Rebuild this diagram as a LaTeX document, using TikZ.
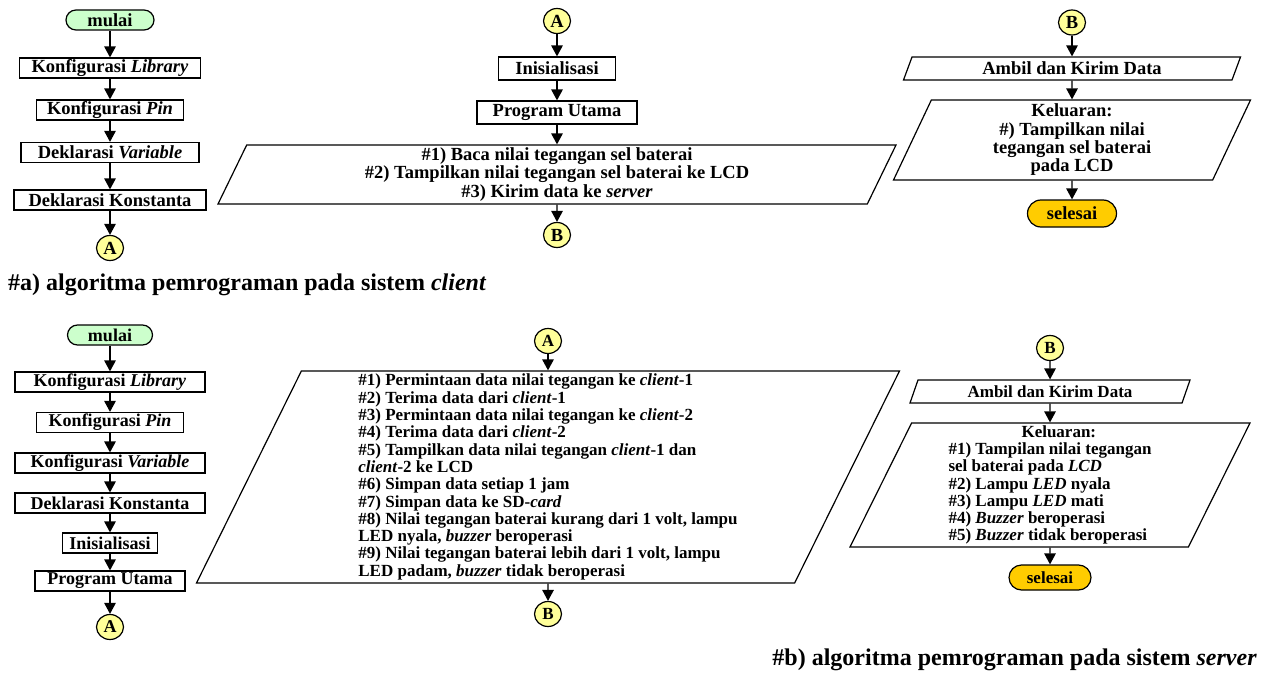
\documentclass[tikz,border=0pt]{standalone}
\usepackage{fontspec}
\setmainfont{Liberation Serif}
\usetikzlibrary{shapes.geometric,arrows.meta}
\definecolor{startgreen}{HTML}{CCFFCC}
\definecolor{endgold}{HTML}{FFCC00}
\definecolor{connyellow}{HTML}{FFFF99}
\begin{document}
\begin{tikzpicture}[x=1pt,y=-1pt,
  cfont/.style={font=\fontsize{18.5pt}{18.3pt}\selectfont\bfseries},
  cbfont/.style={font=\fontsize{18pt}{18pt}\selectfont\bfseries},
  sfont/.style={font=\fontsize{17pt}{17.3pt}\selectfont\bfseries},
  box/.style={draw,line width=1.2pt,rectangle,inner sep=0pt,minimum height=20pt},
  term/.style={draw,line width=1.2pt,rectangle,rounded corners=10pt,inner sep=0pt,minimum height=20pt},
  conn/.style={draw,line width=1.2pt,ellipse,fill=connyellow,inner sep=0pt,minimum width=27pt,minimum height=25pt},
  io/.style={draw,line width=1.2pt,trapezium,trapezium left angle=63.43,trapezium right angle=116.57,trapezium stretches body,inner sep=2pt},
  arr/.style={line width=1.3pt,-{Triangle[width=11.5pt,length=11pt]}},
  ttl/.style={font=\fontsize{24pt}{28pt}\selectfont\bfseries,inner sep=0pt}
]
\useasboundingbox[fill=white] (0,0) rectangle (1268,679);

% ---------- client: column 1
\node[term,fill=startgreen,minimum width=88pt,cfont] (cmulai) at (110,20) {mulai};
\node[box,minimum width=181pt,cfont] (clib) at (110,68) {Konfigurasi \textit{Library}};
\node[box,minimum width=147pt,cfont] (cpin) at (110,110) {Konfigurasi \textit{Pin}};
\node[box,minimum width=178pt,cfont] (cvar) at (110,152.5) {Deklarasi \textit{Variable}};
\node[box,minimum width=192pt,cfont] (ckon) at (110,200) {Deklarasi Konstanta};
\node[conn,cfont] (cA) at (110,248) {A};

% ---------- client: column 2
\node[conn,cfont] (cA2) at (557,21) {A};
\node[box,minimum width=117pt,minimum height=23pt,cfont] (cinit) at (557,68.5) {Inisialisasi};
\node[box,minimum width=160pt,minimum height=23pt,cfont] (cprog) at (557,112.5) {Program Utama};
\node[io,minimum width=678pt,minimum height=59pt,align=center,cfont] (cproc) at (557,174.5)
  {\#1) Baca nilai tegangan sel baterai\\\#2) Tampilkan nilai tegangan sel baterai ke LCD\\\#3) Kirim data ke \textit{server}};
\node[conn,cfont] (cB) at (557,235) {B};

% ---------- client: column 3
\node[conn,cfont] (cB2) at (1072,22.5) {B};
\node[io,minimum width=337pt,minimum height=23pt,cfont] (cambil) at (1072,68.5) {Ambil dan Kirim Data};
\node[io,minimum width=357pt,minimum height=80pt,align=center,cfont] (cout) at (1072,140)
  {Keluaran:\\\#) Tampilkan nilai\\tegangan sel baterai\\pada LCD};
\node[term,fill=endgold,minimum width=89pt,minimum height=27pt,rounded corners=13.5pt,cfont] (cend) at (1072,213.5) {selesai};

\node[ttl,anchor=base west] (ta) at (8,290) {\#a) algoritma pemrograman pada sistem \textit{client}};

% ---------- server: column 1
\node[term,fill=startgreen,minimum width=85pt,cbfont] (smulai) at (110,335) {mulai};
\node[box,minimum width=190pt,cbfont] (slib) at (110,382) {Konfigurasi \textit{Library}};
\node[box,minimum width=147pt,cbfont] (spin) at (110,422.5) {Konfigurasi \textit{Pin}};
\node[box,minimum width=190pt,cbfont] (svar) at (110,463) {Konfigurasi \textit{Variable}};
\node[box,minimum width=190pt,cbfont] (skon) at (110,503) {Deklarasi Konstanta};
\node[box,minimum width=95pt,cbfont] (sinit) at (110,543) {Inisialisasi};
\node[box,minimum width=150pt,cbfont] (sprog) at (110,581) {Program Utama};
\node[conn,cbfont] (sA) at (110,627) {A};

% ---------- server: column 2
\node[conn,sfont] (sA2) at (548,341) {A};
\node[io,minimum width=703pt,minimum height=212pt,align=left,sfont] (sproc) at (548,477)
  {\#1) Permintaan data nilai tegangan ke \textit{client}-1\\
   \#2) Terima data dari \textit{client}-1\\
   \#3) Permintaan data nilai tegangan ke \textit{client}-2\\
   \#4) Terima data dari \textit{client}-2\\
   \#5) Tampilkan data nilai tegangan \textit{client}-1 dan\\
   \textit{client}-2 ke LCD\\
   \#6) Simpan data setiap 1 jam\\
   \#7) Simpan data ke SD-\textit{card}\\
   \#8) Nilai tegangan baterai kurang dari 1 volt, lampu\hspace*{5pt}\\
   LED nyala, \textit{buzzer} beroperasi\\
   \#9) Nilai tegangan baterai lebih dari 1 volt, lampu\\
   LED padam, \textit{buzzer} tidak beroperasi};
\node[conn,sfont] (sB) at (548,614) {B};

% ---------- server: column 3
\node[conn,sfont] (sB2) at (1050,348) {B};
\node[io,minimum width=280pt,minimum height=23pt,sfont] (sambil) at (1050,391.5) {Ambil dan Kirim Data};
\node[io,minimum width=400pt,minimum height=124pt,align=left,sfont] (sout) at (1050,485)
  {\hspace*{73pt}Keluaran:\\
   \#1) Tampilan nilai tegangan\hspace*{11pt}\\
   sel baterai pada \textit{LCD}\\
   \#2) Lampu \textit{LED} nyala\\
   \#3) Lampu \textit{LED} mati\\
   \#4) \textit{Buzzer} beroperasi\\
   \#5) \textit{Buzzer} tidak beroperasi};
\node[term,fill=endgold,minimum width=82pt,minimum height=25pt,rounded corners=12.5pt,sfont] (send) at (1050,577.5) {selesai};

\node[ttl,anchor=base east] (tb) at (1257,665) {\#b) algoritma pemrograman pada sistem \textit{server}};

% ---------- connectors
\draw[arr] (cmulai) -- (clib);
\draw[arr] (clib) -- (cpin);
\draw[arr] (cpin) -- (cvar);
\draw[arr] (cvar) -- (ckon);
\draw[arr] (ckon) -- (cA);
\draw[arr] (cA2) -- (cinit);
\draw[arr] (cinit) -- (cprog);
\draw[arr] (cprog) -- (cproc);
\draw[arr] (cproc) -- (cB);
\draw[arr] (cB2) -- (cambil);
\draw[arr] (cambil) -- (cout);
\draw[arr] (cout) -- (cend);

\draw[arr] (smulai) -- (slib);
\draw[arr] (slib) -- (spin);
\draw[arr] (spin) -- (svar);
\draw[arr] (svar) -- (skon);
\draw[arr] (skon) -- (sinit);
\draw[arr] (sinit) -- (sprog);
\draw[arr] (sprog) -- (sA);
\draw[arr] (sA2) -- (sproc);
\draw[arr] (sproc) -- (sB);
\draw[arr] (sB2) -- (sambil);
\draw[arr] (sambil) -- (sout);
\draw[arr] (sout) -- (send);
\end{tikzpicture}
\end{document}
